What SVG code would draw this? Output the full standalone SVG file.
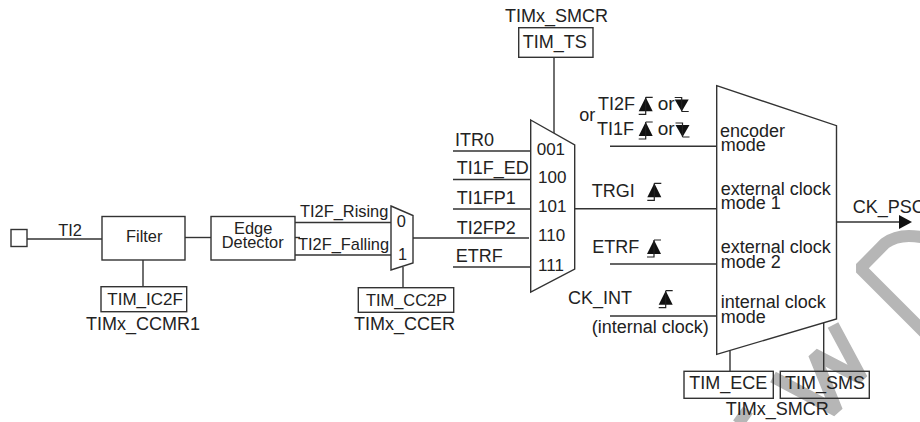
<svg xmlns="http://www.w3.org/2000/svg" width="920" height="422" viewBox="0 0 920 422">
<style>
text{font-family:"Liberation Sans",Arial,sans-serif;font-size:18px;fill:#222}
.s16{font-size:16.4px}
.s17{font-size:17px}
.s19{font-size:19px}
.b{fill:none;stroke:#333;stroke-width:1.4}
.c{fill:none;stroke:#333;stroke-width:1.4}
.wm{fill:none;stroke:#b6b6b6;stroke-width:12;stroke-linejoin:bevel}
.g{fill:none;stroke:#222;stroke-width:1.2}
</style>
<defs>
<marker id="arrow" markerUnits="userSpaceOnUse" markerWidth="13" markerHeight="14" refX="0" refY="7" orient="auto"><path d="M0,0L13,7L0,14Z" fill="#111"/></marker>
<g id="rise"><path d="M0,0L7,14H-7Z" fill="#111"/><path class="g" d="M0,0H7M0,0V17H-7"/></g>
<g id="fall"><path d="M-7,2H7L0,14Z" fill="#111"/><path class="g" d="M0,14H7M0,14V0H-7"/></g>
</defs>
<rect width="920" height="422" fill="#fff"/>
<g id="watermark">
<path class="wm" d="M773,377L837,411L814,354L862,379L833,325"/>
<path class="wm" d="M738,424L748,410"/>
<path class="wm" d="M945,353L860.3,268.3L885,243.3Q900,232 925,238"/>
</g>
<g id="connectors">
<path class="c" d="M27,239H102"/>
<path class="c" d="M185,237.5H211"/>
<path class="c" d="M143,260V287"/>
<path class="c" d="M295,222.5H391M295,255H391"/>
<path class="c" d="M295,237.5H300"/>
<path class="c" d="M413,238H529"/>
<path class="c" d="M403,267V288"/>
<path class="c" d="M453,151H531M453,179.5H531M453,209H531M453,267H531"/>
<path class="c" d="M554,57V133"/>
<path class="c" d="M574.5,208.7H716.5"/>
<path class="c" d="M610,146.3H716.5M610,264H716.5M610,316H716.5"/>
<path class="c" d="M836.5,222H899" marker-end="url(#arrow)"/>
<path class="c" d="M730,351V371"/>
<path class="c" d="M823.7,323V371"/>
</g>
<g id="ti2-pin"><rect class="b" x="11" y="229.5" width="16" height="17"/><text class="s16" x="58.3" y="236">TI2</text></g>
<g id="filter"><rect class="b" x="102" y="216.5" width="83" height="43.5"/><text class="s16" x="126" y="242.3">Filter</text></g>
<g id="edge-detector"><rect class="b" x="211" y="216.5" width="84" height="43.5"/><text class="s16" x="234" y="234.3">Edge</text><text class="s16" x="221.7" y="248.3">Detector</text></g>
<g id="tim-ic2f"><rect class="b" x="101" y="286.7" width="85.7" height="25"/><text class="s17" x="107.3" y="305">TIM_IC2F</text><text x="86" y="330">TIMx_CCMR1</text></g>
<g id="polarity-mux"><path class="b" d="M391,206L413,215.5V263L391,270Z"/><text class="s16" x="396.7" y="227.3">0</text><text class="s16" x="398" y="260">1</text>
<text class="s16" x="300" y="217.3">TI2F_Rising</text><text class="s16" x="298" y="250">TI2F_Falling</text></g>
<g id="tim-cc2p"><rect class="b" x="358.3" y="287.7" width="95.4" height="24.6"/><text class="s16" x="366" y="305.7">TIM_CC2P</text><text x="354" y="330">TIMx_CCER</text></g>
<g id="trigger-mux"><path class="b" d="M530.7,120L574.7,145V269L530.7,292Z"/>
<text class="s17" x="536.7" y="154.7">001</text><text class="s17" x="538" y="183.3">100</text><text class="s17" x="538" y="212">101</text><text class="s17" x="538" y="241.3">110</text><text class="s17" x="538" y="270.7">111</text>
<text x="455" y="145.7">ITR0</text><text x="456.7" y="174.3">TI1F_ED</text><text x="456.7" y="204">TI1FP1</text><text x="456.7" y="234.3">TI2FP2</text><text x="455.7" y="261.7">ETRF</text></g>
<g id="tim-ts"><text x="505" y="22">TIMx_SMCR</text><rect class="b" x="518.7" y="27.7" width="74.3" height="29.6"/><text x="522.7" y="48.3">TIM_TS</text></g>
<g id="edge-labels">
<text x="579.3" y="120.7">or</text>
<text x="598" y="110">TI2F</text><use href="#rise" x="645.7" y="97.3"/><text class="s19" x="657.7" y="110">or</text><use href="#fall" x="681.7" y="97.5"/>
<text x="597" y="135">TI1F</text><use href="#rise" x="645.7" y="122"/><text class="s19" x="657.7" y="135">or</text><use href="#fall" x="682.5" y="123"/>
<text x="591.7" y="196.7">TRGI</text><use href="#rise" x="654.3" y="183.3"/>
<text x="592.3" y="252.7">ETRF</text><use href="#rise" x="654" y="240"/>
<text x="568" y="304">CK_INT</text><use href="#rise" x="665.7" y="290.7"/>
<text x="591.7" y="333.3">(internal clock)</text>
</g>
<g id="mode-mux"><path class="b" d="M716.7,85.7L836.5,125.7V319L716.7,354.3Z"/>
<text x="720" y="136.7">encoder</text><text x="720.7" y="151">mode</text>
<text x="720.7" y="195">external clock</text><text x="720.7" y="209.3">mode 1</text>
<text x="720.7" y="253.3">external clock</text><text x="720.7" y="267.7">mode 2</text>
<text x="720.7" y="308.3">internal clock</text><text x="720.7" y="322.7">mode</text>
<text x="852.7" y="213.3">CK_PSC</text></g>
<g id="tim-ece"><rect class="b" x="684" y="371.3" width="89.3" height="27"/><text x="689.3" y="389.3">TIM_ECE</text></g>
<g id="tim-sms"><rect class="b" x="780.3" y="371.3" width="89" height="27"/><text x="785" y="389.3">TIM_SMS</text><text x="725.7" y="415">TIMx_SMCR</text></g>
</svg>
